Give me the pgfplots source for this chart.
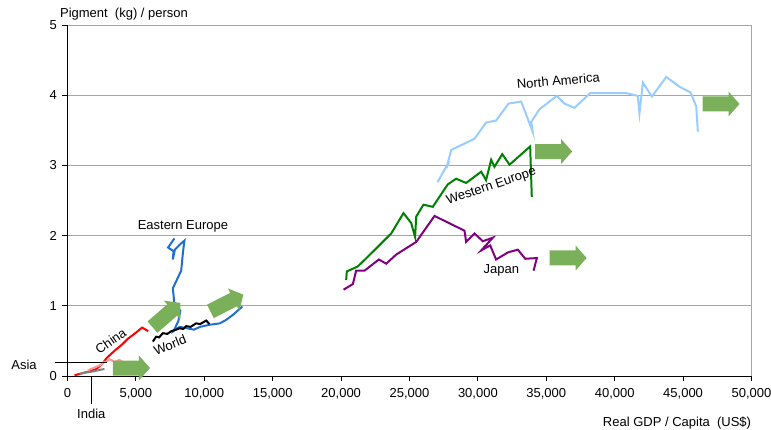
\documentclass[border=0pt]{standalone}
\usepackage{pgfplots}
\pgfplotsset{compat=1.18}
\usepackage{fontspec}
\setmainfont{Liberation Sans}

\definecolor{namerica}{HTML}{99CCFF}
\definecolor{weurope}{HTML}{008000}
\definecolor{japan}{HTML}{800080}
\definecolor{eeurope}{HTML}{1F6FD0}
\definecolor{china}{HTML}{FF0000}
\definecolor{asia}{HTML}{FF9999}
\definecolor{india}{HTML}{808080}
\definecolor{arrowgreen}{RGB}{122,176,90}
\definecolor{gridgray}{HTML}{A6A6A6}

\newcommand{\lbl}{\fontsize{13}{15}\selectfont}

% fat green arrow centred at an axis point, turned by #3 degrees
\newcommand{\fatarrow}[3]{%
  \fill[arrowgreen, shift={(axis cs:#1,#2)}, rotate=#3]
    (-18.5pt,-7.5pt) -- (7.5pt,-7.5pt) -- (7.5pt,-12.5pt) -- (18.5pt,0pt)
    -- (7.5pt,12.5pt) -- (7.5pt,7.5pt) -- (-18.5pt,7.5pt) -- cycle;}

\begin{document}
\begin{tikzpicture}
\path[use as bounding box] (-67.5pt,-53pt) rectangle (703.5pt,376pt);
\begin{axis}[
  at={(0pt,0pt)}, anchor=south west,
  scale only axis, width=684pt, height=351pt,
  xmin=0, xmax=50000, ymin=0, ymax=5,
  xtick={0,5000,...,50000}, ytick={0,1,2,3,4,5},
  axis x line*=bottom, axis y line*=left,
  axis line style={black, line width=0.9pt, -},
  tick align=outside, major tick length=5pt,
  tick style={black, line width=0.9pt},
  ymajorgrids, grid style={gridgray, line width=0.9pt},
  scaled x ticks=false,
  /pgf/number format/.cd, 1000 sep={,}, assume math mode=true,
  /pgfplots/.cd,
  ticklabel style={font=\lbl},
  xticklabel style={yshift=-4pt},
  yticklabel style={xshift=-2pt},
  clip=false,
  every axis plot/.append style={line width=2pt, no markers},
]
\draw[gridgray, line width=0.9pt] (rel axis cs:1,0) -- (rel axis cs:1,1);

% North America
\addplot[namerica] coordinates {
 (27050,2.76) (27900,3.06) (27700,2.96) (28050,3.22) (29750,3.38)
 (30600,3.61) (31330,3.64) (32240,3.88) (33160,3.91) (33770,3.60)
 (34000,3.48) (33900,3.62) (34500,3.80) (35770,3.99) (36330,3.88)
 (37060,3.82) (38210,4.03) (40840,4.03) (41690,3.99) (41810,3.74)
 (42060,4.18) (42720,3.98) (43770,4.26) (44740,4.12) (45540,4.04)
 (45960,3.84) (46080,3.48)
};
% Western Europe
\addplot[weurope] coordinates {
 (20370,1.37) (20420,1.49) (21220,1.56) (22320,1.77) (23660,2.03)
 (24560,2.32) (25120,2.18) (25410,1.98) (25490,2.27) (26020,2.44)
 (26700,2.41) (27800,2.73) (28410,2.81) (29140,2.75) (30240,2.91)
 (30600,2.79) (30970,3.08) (31210,2.98) (31780,3.16) (32310,3.01)
 (33820,3.27) (33940,2.55)
};
% Japan
\addplot[japan] coordinates {
 (20180,1.23) (20860,1.31) (21100,1.50) (21710,1.50) (22760,1.66)
 (23300,1.60) (24030,1.73) (25490,1.91) (26830,2.28) (29020,2.07)
 (29140,1.91) (29750,2.03) (30360,1.92) (31090,1.97) (30250,1.79)
 (30900,1.86) (31330,1.66) (32190,1.76) (32920,1.80) (33460,1.67)
 (34310,1.68) (34070,1.50)
};
% Eastern Europe
\addplot[eeurope] coordinates {
 (7820,1.96) (7350,1.83) (7750,1.78) (7700,1.66) (7850,1.80)
 (8200,1.87) (8550,1.93) (8450,1.78) (8310,1.50) (7700,1.25)
 (7820,1.02) (8250,0.93) (8100,0.78) (7750,0.64) (8200,0.70)
 (9250,0.66) (9680,0.70) (10400,0.73) (11140,0.75) (11600,0.80)
 (12090,0.87) (12780,0.99)
};
% World
\addplot[black] coordinates {
 (6240,0.49) (6480,0.56) (6700,0.55) (6970,0.61) (7300,0.60)
 (7600,0.64) (7940,0.66) (8200,0.68) (8450,0.67) (8680,0.71)
 (9000,0.70) (9400,0.75) (9700,0.74) (10140,0.79) (10380,0.74)
};
% China
\addplot[china] coordinates {
 (510,0.01) (880,0.03) (1500,0.06) (2100,0.10) (2580,0.18)
 (2830,0.25) (3440,0.36) (4000,0.45) (4410,0.53) (5020,0.62)
 (5450,0.69) (5900,0.64)
};
% Asia
\addplot[asia] coordinates {
 (1480,0.08) (2090,0.13) (2450,0.16) (2700,0.20) (2900,0.21)
 (3070,0.24) (3440,0.20) (3800,0.23) (4100,0.19) (4410,0.20)
};
% India
\addplot[india] coordinates {
 (880,0.03) (1300,0.05) (1730,0.06) (2200,0.08) (2700,0.10)
};

\fatarrow{4675}{0.114}{0}
\fatarrow{7232}{0.869}{41}
\fatarrow{11651}{1.040}{27}
\fatarrow{35537}{3.198}{0}
\fatarrow{36596}{1.681}{0}
\fatarrow{47772}{3.875}{0}

\draw[black, line width=0.9pt] (axis cs:-913,0.2) -- (axis cs:2885,0.2);
\draw[black, line width=0.9pt] (axis cs:1717,0) -- (axis cs:1717,-0.4);

\node[font=\lbl] at (axis cs:-3178,0.157) {Asia};
\node[font=\lbl] at (axis cs:1739,-0.54) {India};
\node[font=\lbl, rotate=5] at (axis cs:35876,4.207) {North America};
\node[font=\lbl, rotate=19] at (axis cs:30986,2.697) {Western Europe};
\node[font=\lbl] at (axis cs:31716,1.50) {Japan};
\node[font=\lbl] at (axis cs:8437,2.137) {Eastern Europe};
\node[font=\lbl, rotate=35] at (axis cs:3156,0.499) {China};
\node[font=\lbl, rotate=22] at (axis cs:7487,0.44) {World};

\node[font=\lbl, anchor=west] at (rel axis cs:-0.016,1.03) {Pigment\ \ (kg) / person};
\node[font=\lbl, anchor=east] at (rel axis cs:1.0045,-0.134) {Real GDP / Capita\ \ (US\$)};
\end{axis}
\end{tikzpicture}
\end{document}
